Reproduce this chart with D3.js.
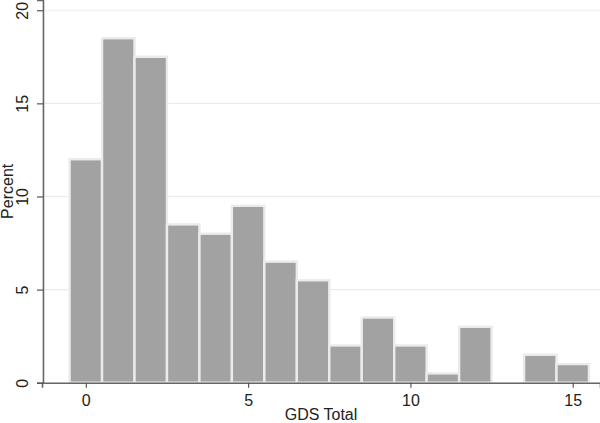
<!DOCTYPE html>
<html>
<head>
<meta charset="utf-8">
<script src="https://cdn.jsdelivr.net/npm/d3@7"></script>
<style>
  html, body { margin: 0; padding: 0; background: #fff; }
  svg { display: block; font-family: "Liberation Sans", Arial, sans-serif; }
</style>
</head>
<body>
<div id="chart"></div>
<script>
// GDS Total score bins and percent of respondents
const scores = [0, 1, 2, 3, 4, 5, 6, 7, 8, 9, 10, 11, 12, 13, 14, 15];
const percents = [12, 18.5, 17.5, 8.5, 8, 9.5, 6.5, 5.5, 2, 3.5, 2, 0.5, 3, 0, 1.5, 1];
const xTicks = [0, 5, 10, 15];
const yTicks = [0, 5, 10, 15, 20];

const width = 600;
const height = 423;
const margin = { top: 0, right: 0, bottom: 40, left: 42 };

const svg = d3.select('#chart')
    .append('svg')
    .attr('width', width)
    .attr('height', height);

// plot region runs a bit past the data range, like Stata does
const x = d3.scaleLinear()
    .domain([-1.35, 15.84])
    .range([margin.left, width - margin.right]);

const y = d3.scaleLinear()
    .domain([0, 20.55])
    .range([382.7, margin.top]);

// horizontal grid lines
svg.append('g')
    .selectAll('line')
    .data(yTicks.filter(d => d > 0))
    .enter()
    .append('line')
    .attr('x1', x.range()[0])
    .attr('x2', x.range()[1])
    .attr('y1', d => y(d))
    .attr('y2', d => y(d))
    .attr('stroke', '#ececec')
    .attr('stroke-width', 1.2);

// bars
const data = scores.map((s, i) => ({ score: s, pct: percents[i] }));
svg.append('g')
    .selectAll('rect')
    .data(data.filter(d => d.pct > 0))
    .enter()
    .append('rect')
    .attr('x', d => x(d.score - 0.5))
    .attr('width', d => x(d.score + 0.5) - x(d.score - 0.5))
    .attr('y', d => y(d.pct))
    .attr('height', d => y(0) - y(d.pct))
    .attr('fill', '#a2a2a2')
    .attr('stroke', '#ebebeb')
    .attr('stroke-width', 2.4);

// axes
const xAxis = svg.append('g')
    .attr('transform', `translate(0, ${y(0)})`)
    .call(d3.axisBottom(x).tickValues(xTicks).tickFormat(d3.format('d')).tickSizeOuter(0).tickSize(5).tickPadding(7));

const yAxis = svg.append('g')
    .attr('transform', `translate(${x(-1.32)}, 0)`)
    .call(d3.axisLeft(y).tickValues(yTicks).tickFormat(d3.format('d')).tickSizeOuter(0).tickSize(6).tickPadding(7));

[xAxis, yAxis].forEach(g => {
    g.select('.domain').attr('stroke', '#666').attr('stroke-width', 1.6);
    g.selectAll('.tick line').attr('stroke', '#555').attr('stroke-width', 1.2);
    g.selectAll('.tick text').attr('fill', '#222').style('font-size', '16px');
});

yAxis.selectAll('.tick text')
    .attr('transform', 'rotate(-90)')
    .attr('text-anchor', 'middle')
    .attr('x', 0)
    .attr('y', -15)
    .attr('dy', 0);

// axis titles, centred on the plot region
svg.append('text')
    .attr('x', d3.mean(x.range()))
    .attr('y', 420)
    .attr('text-anchor', 'middle')
    .attr('fill', '#222')
    .style('font-size', '16px')
    .text('GDS Total');

svg.append('text')
    .attr('transform', `translate(13, ${d3.mean(y.range())}) rotate(-90)`)
    .attr('text-anchor', 'middle')
    .attr('fill', '#222')
    .style('font-size', '16px')
    .text('Percent');
</script>
</body>
</html>
